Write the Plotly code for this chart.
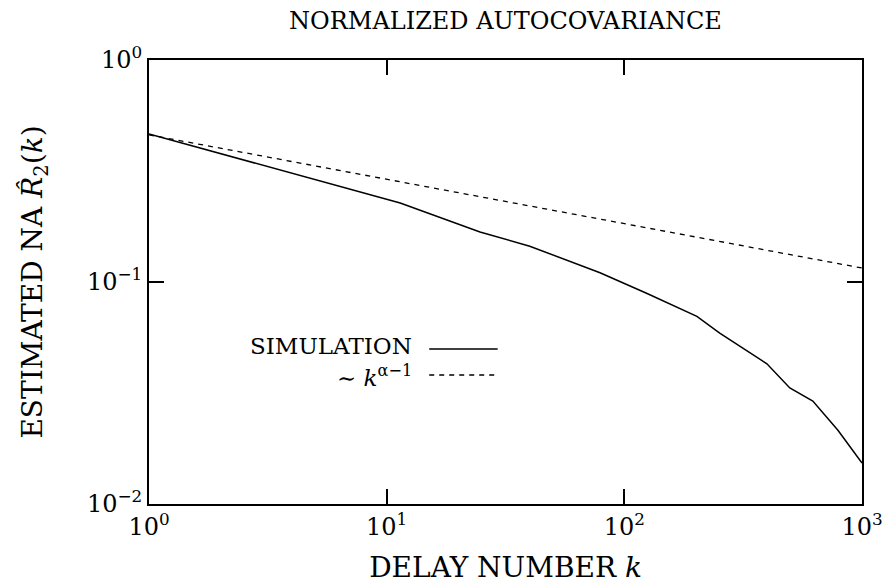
import plotly.graph_objects as go

# Simulation (estimated normalized autocovariance)
sim_k = [1, 11.4, 24.7, 40, 79, 124, 202, 252, 398, 497, 621, 792, 1000]
sim_r = [0.464, 0.227, 0.168, 0.145, 0.110, 0.089, 0.0700, 0.0589, 0.0428, 0.0333, 0.0291, 0.0215, 0.0153]

# Reference power law ~ k^(alpha-1), endpoints
ref_k = [1, 1000]
ref_r = [0.46, 0.1156]

x_tickvals = [1, 10, 100, 1000]
x_ticktext = ["10<sup>0</sup>", "10<sup>1</sup>", "10<sup>2</sup>", "10<sup>3</sup>"]
y_tickvals = [0.01, 0.1, 1]
y_ticktext = ["10<sup>\u22122</sup>", "10<sup>\u22121</sup>", "10<sup>0</sup>"]

FONT = "DejaVu Serif"

fig = go.Figure()
fig.add_trace(go.Scatter(x=sim_k, y=sim_r, mode="lines",
                         line=dict(color="black", width=1.5), showlegend=False))
fig.add_trace(go.Scatter(x=ref_k, y=ref_r, mode="lines",
                         line=dict(color="black", width=1.3, dash="5px,5px"), showlegend=False))

axis_common = dict(
    type="log", showgrid=False, zeroline=False, automargin=False,
    showline=True, linecolor="black", linewidth=2, mirror="ticks",
    ticks="inside", ticklen=15, tickwidth=2, tickcolor="black",
    tickfont=dict(family=FONT, size=24, color="black"),
)

fig.update_layout(
    width=885, height=585,
    margin=dict(l=149, r=23, t=60, b=81),
    paper_bgcolor="white", plot_bgcolor="white",
    font=dict(family=FONT, color="black"),
    title=dict(text="NORMALIZED AUTOCOVARIANCE", x=0.5, xref="paper",
               y=1 - 21 / 585, yanchor="middle",
               font=dict(family=FONT, size=24, color="black")),
    xaxis=dict(**axis_common, range=[0, 3], tickvals=x_tickvals, ticktext=x_ticktext,
               title=dict(text="DELAY NUMBER <i>k</i>", standoff=18,
                          font=dict(family=FONT, size=28, color="black"))),
    yaxis=dict(**axis_common, range=[-2, 0], tickvals=y_tickvals, ticktext=y_ticktext,
               title=dict(text="ESTIMATED NA <i>R\u0302</i><sub>2</sub>(<i>k</i>)", standoff=36,
                          font=dict(family=FONT, size=28, color="black"))),
    showlegend=False,
)

# Legend drawn as text + sample lines (text on the left of the sample)
fig.add_annotation(xref="paper", yref="paper", x=0.370, y=0.3243, xanchor="right", yanchor="bottom",
                   text="SIMULATION", showarrow=False, borderpad=0,
                   font=dict(family=FONT, size=23, color="black"))
fig.add_annotation(xref="paper", yref="paper", x=0.370, y=0.3243, xanchor="right", yanchor="top",
                   text="\u223c <i>k</i><sup>\u03b1\u22121</sup>", showarrow=False, borderpad=0,
                   font=dict(family=FONT, size=23, color="black"))
fig.add_shape(type="line", xref="paper", yref="paper", x0=0.393, x1=0.489, y0=0.349, y1=0.349,
              line=dict(color="black", width=1.5))
fig.add_shape(type="line", xref="paper", yref="paper", x0=0.393, x1=0.489, y0=0.2905, y1=0.2905,
              line=dict(color="black", width=1.3, dash="5px,5px"))

fig.write_html("out.html", config={"displayModeBar": False},
               post_script="document.body.style.margin='0px';document.body.style.overflow='hidden';")
